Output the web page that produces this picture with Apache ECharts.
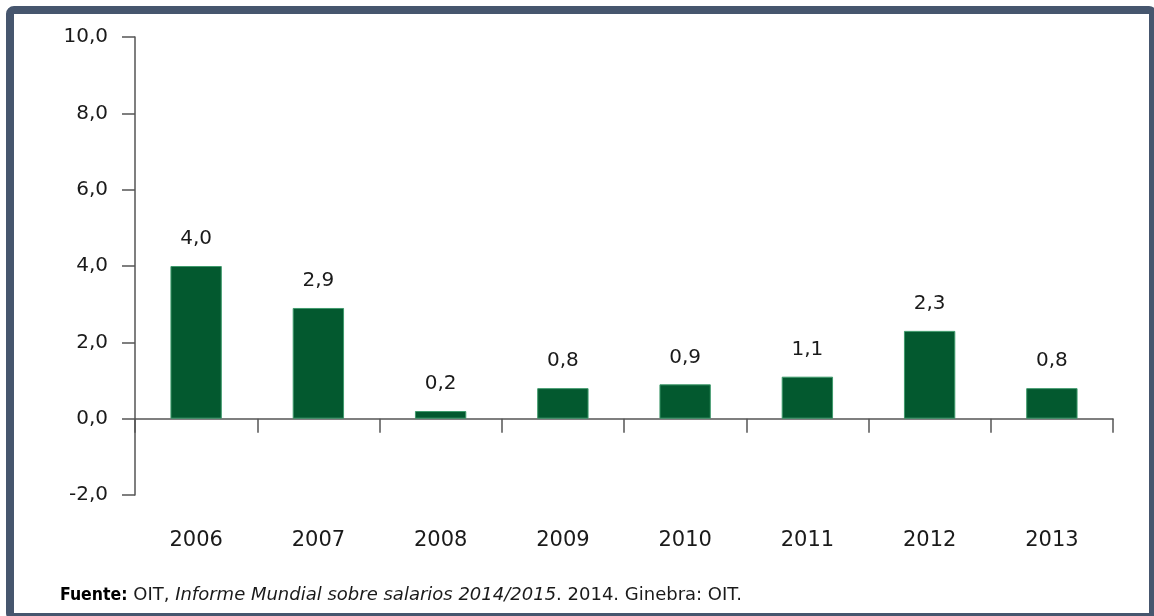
<!DOCTYPE html>
<html>
<head>
<meta charset="utf-8">
<style>
  html, body { margin: 0; padding: 0; background: #fff; }
  #chart { width: 1154px; height: 616px; }
</style>
<script src="https://cdn.jsdelivr.net/npm/echarts@6/dist/echarts.min.js"></script>
</head>
<body>
<div id="chart"></div>
<script>
// data
var years = ["2006", "2007", "2008", "2009", "2010", "2011", "2012", "2013"];
var growth = [4.0, 2.9, 0.2, 0.8, 0.9, 1.1, 2.3, 0.8];
var yMin = -2, yMax = 10, yStep = 2;

var barColor = "#03592f";
var axisColor = "#555555";
var textColor = "#1a1a1a";
var font = "DejaVu Sans";

function comma(v, d) {
  return Number(v).toFixed(d).replace(".", ",");
}

var myChart = echarts.init(document.getElementById("chart"));

var option = {
  animation: false,
  backgroundColor: "#ffffff",
  title: {
    left: 55,
    top: 581,
    text: "{b|Fuente:} OIT, {i|Informe Mundial sobre salarios 2014/2015}. 2014. Ginebra: OIT.",
    textStyle: {
      fontFamily: font,
      fontSize: 18,
      fontWeight: "normal",
      color: textColor,
      rich: {
        b: { fontFamily: "DejaVu Sans Condensed", fontWeight: "bold", fontSize: 17.5, color: "#000" },
        i: { fontFamily: font, fontStyle: "italic", fontSize: 18, color: textColor }
      }
    }
  },
  grid: {
    left: 135,
    right: 41,
    top: 37,
    bottom: 121,
    containLabel: false,
    outerBoundsMode: "none"
  },
  xAxis: {
    type: "category",
    data: years,
    boundaryGap: true,
    axisLine: { show: true, onZero: true, lineStyle: { color: axisColor, width: 1.5 } },
    axisTick: { show: true, length: 14, alignWithLabel: false, lineStyle: { color: axisColor, width: 1.5 } },
    axisLabel: {
      margin: 35,
      color: textColor,
      fontFamily: font,
      fontSize: 21
    }
  },
  yAxis: {
    type: "value",
    min: yMin,
    max: yMax,
    interval: yStep,
    axisLine: { show: true, lineStyle: { color: axisColor, width: 1.5 } },
    axisTick: { show: true, length: 13, lineStyle: { color: axisColor, width: 1.5 } },
    splitLine: { show: false },
    axisLabel: {
      margin: 27,
      color: textColor,
      fontFamily: font,
      fontSize: 20,
      formatter: function (v) { return comma(v, 1); }
    }
  },
  series: [
    {
      type: "bar",
      data: growth,
      barWidth: "42%",
      itemStyle: {
        color: barColor,
        borderColor: "#3f9a6c",
        borderWidth: 1
      },
      label: {
        show: true,
        position: "top",
        distance: 17,
        color: textColor,
        fontFamily: font,
        fontSize: 20,
        formatter: function (p) { return comma(p.value, 1); }
      }
    }
  ],
  graphic: [
    {
      type: "rect",
      silent: true,
      z: 100,
      shape: { x: 10, y: 10, width: 1143, height: 607, r: 4 },
      style: { fill: "none", stroke: "#46566e", lineWidth: 8 }
    }
  ]
};

myChart.setOption(option);
</script>
</body>
</html>
